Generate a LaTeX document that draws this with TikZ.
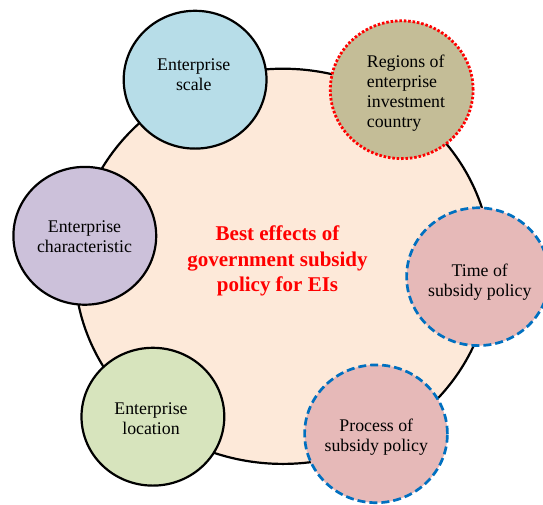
\documentclass[tikz,border=0pt]{standalone}
\usepackage{fontspec}
\usetikzlibrary{shapes.geometric}
\setmainfont{Liberation Serif}
\begin{document}
\begin{tikzpicture}[x=1pt,y=-1pt,
  ring/.style={ellipse,draw=black,line width=2.2pt,inner sep=0pt,minimum width=142.8pt,minimum height=137.8pt},
  outline/.style={ellipse,draw=black,line width=2.2pt,inner sep=0pt,minimum width=416.6pt,minimum height=395.2pt,fill=hubfill},
  dotline/.style={draw=dotred,line width=2.8pt,dash pattern=on 2.5pt off 1.9pt},
  dashline/.style={draw=dashblue,line width=2.7pt,dash pattern=on 8pt off 4pt},
  label/.style={align=center,inner sep=0pt,font=\fontsize{17.8}{20}\selectfont},
  hubtext/.style={align=center,inner sep=0pt,text=dotred,font=\fontsize{21}{25.5}\selectfont\bfseries}]
\definecolor{hubfill}{HTML}{FDE9D9}
\definecolor{scalefill}{HTML}{B7DDE8}
\definecolor{regionfill}{HTML}{C4BD97}
\definecolor{charfill}{HTML}{CCC1DA}
\definecolor{pinkfill}{HTML}{E6B9B8}
\definecolor{locfill}{HTML}{D7E4BD}
\definecolor{dotred}{HTML}{FF0000}
\definecolor{dashblue}{HTML}{0070C0}
\useasboundingbox (0,0) rectangle (543,504);
% central hub
\node[outline] (hub) at (282.9,266.3) {};
\node[hubtext] (hubtxt) at (277.5,261.2) {Best effects of\\government subsidy\\policy for EIs};
% surrounding factors
\node[ring,fill=scalefill] (scale) at (195.1,79.7) {};
\node[label] (scaletxt) at (193.8,74.9) {Enterprise\\scale};
\node[ring,fill=regionfill,dotline] (region) at (401.7,89.7) {};
\node[label,align=left,anchor=west] (regiontxt) at (366.7,92.8) {Regions of\\enterprise\\investment\\country};
\node[ring,fill=charfill] (char) at (84.8,235.8) {};
\node[label] (chartxt) at (84.5,236.6) {Enterprise\\characteristic};
\node[ring,fill=pinkfill,dashline] (time) at (478,276.7) {};
\node[label] (timetxt) at (479.8,282.5) {Time of\\subsidy policy};
\node[ring,fill=locfill] (loc) at (152.9,416.7) {};
\node[label] (loctxt) at (151,419.1) {Enterprise\\location};
\node[ring,fill=pinkfill,dashline] (proc) at (376,433.8) {};
\node[label] (proctxt) at (376.3,437.2) {Process of\\subsidy policy};
\end{tikzpicture}
\end{document}
